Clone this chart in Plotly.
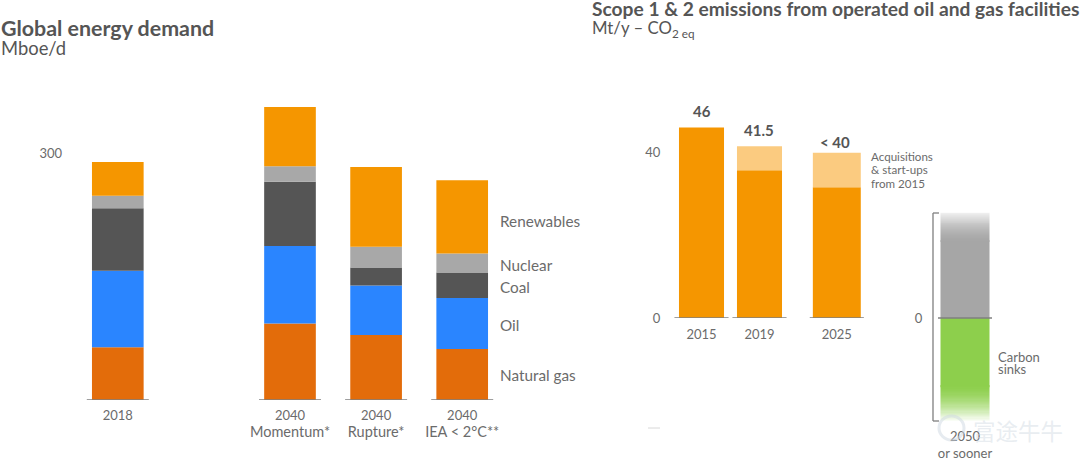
import plotly.graph_objects as go

W, H = 1080, 458
FONT = "Lato"
TXT = "#6b6b6b"
DARK = "#555555"

# ---- data -------------------------------------------------------------
demand_cats = ["2018", " ", "Momentum", "Rupture", "IEA"]
demand_ticks = ["2018", "Momentum", "Rupture", "IEA"]
demand_tick_years = ["2018", "2040", "2040", "2040"]
demand_tick_notes = ["", "Momentum*", "Rupture*", "IEA < 2°C**"]
natural_gas = [64, None, 93, 79, 62]
oil = [93, None, 94, 60, 62]
coal = [76, None, 78, 22, 31]
nuclear = [15, None, 19, 25, 23]
renewables = [41, None, 72, 97, 89]
energy_names = ["Natural gas", "Oil", "Coal", "Nuclear", "Renewables"]

emission_cats = ["2015", "a", "b", "2019", "c", "d", "e", "2025"]
emission_ticks = ["2015", "2019", "2025"]
operated = [46, None, None, 35.7, None, None, None, 31.6]
acquisitions = [0, None, None, 5.8, None, None, None, 8.3]
emission_labels = ["46", "41.5", "< 40"]
emission_totals = [46, 41.5, 39.9]

sink_cat = ["2050<br>or sooner"]
gross_solid = [18.8]    # full-strength grey part above zero
gross_fade = 6.6        # part of the grey that fades out
sinks_solid = [16.7]    # full-strength green part below zero
sinks_fade = 8.2        # part of the green that fades out

COL = {"Natural gas": "#e36c0a", "Oil": "#2a85ff", "Coal": "#555555",
       "Nuclear": "#a8a8a8", "Renewables": "#f59600"}
ORANGE, LIGHT = "#f59600", "#fbcb80"

def fx(px): return px / W
def fy(py): return 1 - py / H

fig = go.Figure()

# ---- left: energy demand ----------------------------------------------
series = dict(zip(energy_names, [natural_gas, oil, coal, nuclear, renewables]))
for name, vals in series.items():
    fig.add_bar(x=demand_cats, y=vals, name=name, marker_color=COL[name],
                marker_line_width=0, xaxis="x", yaxis="y", showlegend=False)

# ---- middle: emissions ------------------------------------------------
widths = [2.33, 1, 1, 2.33, 1, 1, 1, 2.48]
fig.add_bar(x=emission_cats, y=operated, width=widths, marker_color=ORANGE,
            marker_line_width=0, xaxis="x2", yaxis="y2", showlegend=False)
fig.add_bar(x=emission_cats, y=acquisitions, width=widths, marker_color=LIGHT,
            marker_line_width=0, xaxis="x2", yaxis="y2", showlegend=False)

# ---- right: 2050 ------------------------------------------------------
bw = 0.7
hw = bw / 2
fig.add_bar(x=sink_cat, y=gross_solid, width=[bw], marker_color="#a6a6a6", marker_line_width=0,
            xaxis="x3", yaxis="y3", showlegend=False)
fig.add_bar(x=sink_cat, y=[-v for v in sinks_solid], width=[bw], marker_color="#8dcf4c", marker_line_width=0,
            xaxis="x3", yaxis="y3", showlegend=False)

def fade(y0, y1, c0, c1, rows=30):
    """Vertical colour fade drawn as a one-column heatmap from y0 to y1, eased at the solid end."""
    edges = [y0 + (y1 - y0) * k / rows for k in range(rows + 1)]
    z = [[((k + 0.5) / rows) ** 1.6] for k in range(rows)]
    fig.add_heatmap(x=[-hw, hw], y=edges, z=z, colorscale=[[0, c0], [1, c1]], zmin=0, zmax=1,
                    showscale=False, xaxis="x4", yaxis="y3", hoverinfo="skip")

# both fades start a little inside the solid bar so no pixel gap opens at the joint
fade(gross_solid[0] - 0.5, gross_solid[0] + gross_fade, "rgb(166,166,166)", "rgb(240,240,240)")
fade(-sinks_solid[0] + 0.5, -sinks_solid[0] - sinks_fade, "rgb(141,207,76)", "rgb(252,254,250)")

# ---- baselines --------------------------------------------------------
LINE = dict(color="#7f7f7f", width=1.6)
shapes = []
for i in [0, 2, 3, 4]:
    shapes.append(dict(type="line", xref="x", yref="y", x0=i - 0.36, x1=i + 0.36, y0=0, y1=0, line=LINE))
for i in [0, 3, 7]:
    shapes.append(dict(type="line", xref="x2", yref="y2", x0=i - 1.4, x1=i + 1.4, y0=0, y1=0, line=LINE))
shapes.append(dict(type="line", xref="x4", yref="y3", x0=-0.386, x1=0.386, y0=0, y1=0, line=LINE))
# bracket of the 2050 column
for x0, y0, x1, y1 in [(939, 213, 933, 213), (933, 213, 933, 421), (933, 421, 939, 421)]:
    shapes.append(dict(type="line", xref="paper", yref="paper", x0=fx(x0), x1=fx(x1),
                       y0=fy(y0), y1=fy(y1), line=dict(color="#7f7f7f", width=1.3)))
# faint marks of the reference: stray dash and watermark logo
shapes.append(dict(type="line", xref="paper", yref="paper", x0=fx(648), x1=fx(660), y0=fy(428), y1=fy(428),
                   line=dict(color="rgba(190,190,190,0.6)", width=1)))
shapes.append(dict(type="circle", xref="paper", yref="paper", x0=fx(939), x1=fx(964), y0=fy(440), y1=fy(416),
                   line=dict(color="rgba(205,215,225,0.5)", width=3)))

# ---- texts ------------------------------------------------------------
ann = []
def note(px, py, text, size=13.5, color=TXT, anchor="left", family=FONT):
    ann.append(dict(xref="paper", yref="paper", x=fx(px), y=fy(py), text=text, showarrow=False,
                    xanchor=anchor, yanchor="middle", align=anchor,
                    font=dict(family=family, size=size, color=color)))

note(-1, 28, "<b>Global energy demand</b>", 21.4, DARK)
note(-1, 48, "Mboe/d", 18.4, DARK)
note(590, 9, "<b>Scope 1 &amp; 2 emissions from operated oil and gas facilities</b>", 19.2, DARK)
note(590, 29, "Mt/y – CO<sub>2 eq</sub>", 16.8, DARK)
for label, py in zip(["Renewables", "Nuclear", "Coal", "Oil", "Natural gas"], [221, 265, 287, 325, 375]):
    note(498, py, label, 15.3)
for line, py in zip(["Acquisitions", "&amp; start-ups", "from 2015"], [156, 169, 183]):
    note(869, py, line, 11.6)
for line, py in zip(["Carbon", "sinks"], [357, 369]):
    note(996, py, line, 13)
note(971, 430, "富途牛牛", 22.5, "rgba(205,215,225,0.45)", family="Noto Sans CJK SC")

for idx, total, label, ys, xs in zip([0, 3, 7], emission_totals, emission_labels, [6, 5, 0], [0, 0, -2]):
    ann.append(dict(xref="x2", yref="y2", x=idx, y=total, text=f"<b>{label}</b>", showarrow=False,
                    yanchor="bottom", yshift=ys, xshift=xs, font=dict(family=FONT, size=15, color=DARK)))
fig.update_layout(annotations=ann, shapes=shapes)

# ---- axes -------------------------------------------------------------
tick = dict(family=FONT, size=13, color=TXT)
base = dict(showgrid=False, zeroline=False, showline=False, fixedrange=True, ticks="outside",
            tickcolor="rgba(0,0,0,0)", ticklen=3, tickfont=tick, tickangle=0)
y_scale_left = 247 / 300
y_scale_right = 4.14
demand_ticktext = [y if not n else f"{y}<br><span style='font-size:14.5px'>{n}</span>"
                   for y, n in zip(demand_tick_years, demand_tick_notes)]

fig.update_layout(
    width=W, height=H, margin=dict(l=0, r=0, t=0, b=0), paper_bgcolor="white", plot_bgcolor="rgba(0,0,0,0)",
    barmode="relative", bargap=0.4, showlegend=False,
    xaxis=dict(base, domain=[fx(74.75), fx(505.25)], type="category", categoryorder="array",
               categoryarray=demand_cats, tickvals=demand_ticks, ticktext=demand_ticktext, anchor="y"),
    yaxis=dict(base, domain=[fy(400), 1], range=[0, 400 / y_scale_left], tickvals=[300], anchor="x", ticklen=9),
    xaxis2=dict(base, domain=[fx(668), fx(880)], type="category", categoryorder="array",
                categoryarray=emission_cats, tickvals=emission_ticks, ticklen=4,
                range=[(668 - 701.5) / 19.33, (880 - 701.5) / 19.33], anchor="y2"),
    yaxis2=dict(base, domain=[fy(318), 1], range=[0, 318 / y_scale_right], tickvals=[0, 40], anchor="x2", ticklen=4),
    xaxis3=dict(base, domain=[fx(930), fx(1000)], type="category", tickvals=sink_cat, anchor="y3", ticklen=3),
    yaxis3=dict(base, domain=[fy(421), 1], range=[(318 - 421) / y_scale_right, 318 / y_scale_right],
                tickvals=[0], anchor="x3", ticklen=4),
    xaxis4=dict(domain=[fx(930), fx(1000)], range=[-0.5, 0.5], visible=False, anchor="y3", fixedrange=True,
                overlaying="x3"),
)
fig.update_layout(height=H + 8)

fig.write_html("out.html", config={"displayModeBar": False},
               post_script="document.body.style.margin='0';document.documentElement.style.overflow='hidden';")
